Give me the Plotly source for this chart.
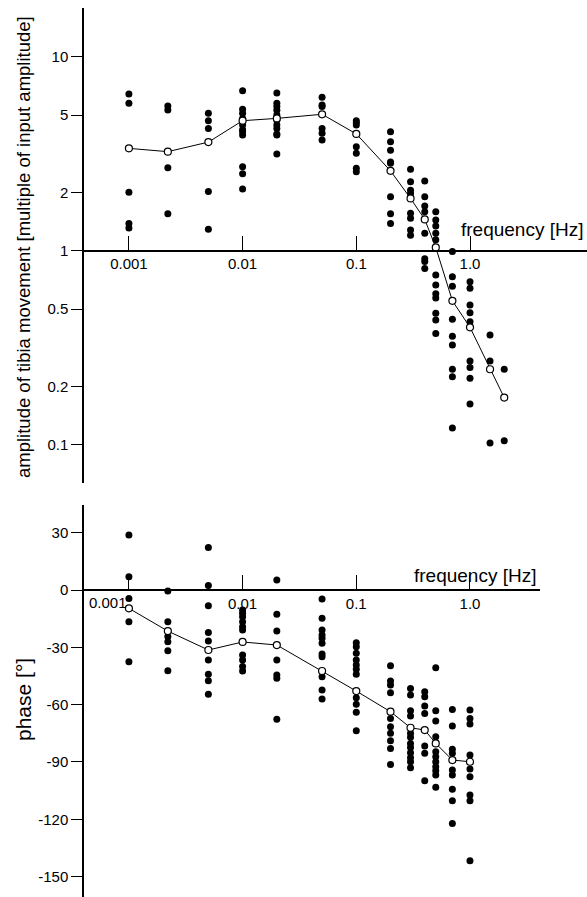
import plotly.graph_objects as go

W, H = 587, 897

# ---------------- data ----------------
amp_freq = [0.001, 0.0022, 0.005, 0.01, 0.02, 0.05, 0.1, 0.2, 0.3, 0.4, 0.5, 0.7, 1.0, 1.5, 2.0]
amp_mean = [3.37, 3.24, 3.63, 4.68, 4.81, 5.05, 4.0, 2.58, 1.86, 1.45, 1.04, 0.552, 0.403, 0.245, 0.175]
amp_points = [
    [6.42, 5.75, 2.0, 1.38, 1.31],
    [5.57, 5.31, 2.68, 1.55],
    [5.11, 4.68, 4.27, 2.02, 1.29],
    [6.68, 5.36, 5.11, 4.81, 4.44, 4.2, 4.1, 3.95, 2.71, 2.49, 2.08],
    [6.5, 5.75, 5.53, 5.3, 5.0, 4.7, 4.44, 4.27, 4.0, 3.95, 3.15],
    [6.18, 5.64, 5.53, 4.27, 4.03, 3.72],
    [4.68, 4.57, 4.44, 3.44, 3.18, 2.66, 2.55],
    [4.10, 3.65, 3.30, 2.87, 2.82, 1.90, 1.55, 1.38],
    [2.63, 2.27, 2.05, 1.97, 1.56, 1.47, 1.28, 1.20],
    [2.29, 1.90, 1.70, 1.59, 1.23, 0.91, 0.88, 0.81],
    [1.59, 1.44, 1.34, 1.23, 1.14, 0.75, 0.665, 0.60, 0.57, 0.476, 0.44, 0.375],
    [0.99, 0.734, 0.657, 0.443, 0.363, 0.327, 0.245, 0.224, 0.122],
    [0.692, 0.64, 0.525, 0.479, 0.43, 0.27, 0.25, 0.22, 0.162],
    [0.368, 0.27, 0.102],
    [0.245, 0.105],
]

phase_freq = [0.001, 0.0022, 0.005, 0.01, 0.02, 0.05, 0.1, 0.2, 0.3, 0.4, 0.5, 0.7, 1.0]
phase_mean = [-9.6, -21.5, -31.4, -27.2, -28.8, -42.4, -52.9, -63.7, -72.1, -73.3, -80.3, -89.0, -89.9]
phase_points = [
    [28.8, 7.0, -4.4, -16.6, -37.5],
    [-0.5, -16.6, -24.4, -27.1, -31.8, -42.2],
    [22.3, 2.3, -8.2, -22.3, -26.7, -36.6, -44.1, -47.5, -54.6],
    [-10.5, -12.2, -14.0, -16.6, -19.2, -20.9, -34.0, -36.6, -40.1, -42.4],
    [5.2, -12.7, -21.5, -36.6, -44.5, -46.2, -67.7],
    [-4.7, -14.8, -20.9, -23.6, -25.3, -27.9, -33.5, -34.9, -45.4, -52.4, -57.1],
    [-27.6, -29.7, -33.1, -36.6, -39.3, -41.5, -44.1, -56.4, -59.8, -64.0, -73.7],
    [-39.6, -47.6, -49.7, -53.8, -67.2, -71.6, -75.0, -78.9, -82.9, -91.3],
    [-51.5, -55.0, -63.2, -66.0, -75.0, -77.1, -80.3, -82.4, -85.2, -87.8, -89.9, -93.0],
    [-53.2, -55.9, -60.7, -64.6, -81.7, -85.5, -99.8],
    [-40.7, -63.2, -68.6, -76.8, -84.7, -87.3, -89.9, -92.5, -94.6, -96.9, -103.3],
    [-62.5, -71.2, -83.4, -85.5, -94.2, -96.9, -104.3, -110.3, -122.2],
    [-62.8, -67.2, -70.2, -86.4, -93.7, -97.7, -107.3, -110.3, -141.7],
]

x_tickvals = [0.001, 0.01, 0.1, 1.0]
x_ticktext = ["0.001", "0.01", "0.1", "1.0"]
amp_tickvals = [0.1, 0.2, 0.5, 1, 2, 5, 10]
amp_ticktext = ["0.1", "0.2", "0.5", "1", "2", "5", "10"]
phase_tickvals = [30, 0, -30, -60, -90, -120, -150]
phase_ticktext = ["30", "0", "-30", "-60", "-90", "-120", "-150"]

# ---------------- figure ----------------
FONT = "Liberation Sans, Arial, sans-serif"


def flat(freqs, pts):
    xs, ys = [], []
    for f, col in zip(freqs, pts):
        for v in col:
            xs.append(f)
            ys.append(v)
    return xs, ys


fig = go.Figure()

ax, ay = flat(amp_freq, amp_points)
fig.add_trace(go.Scatter(x=ax, y=ay, mode="markers", xaxis="x", yaxis="y",
                         marker=dict(size=7, color="black"), showlegend=False,
                         hoverinfo="skip"))
fig.add_trace(go.Scatter(x=amp_freq, y=amp_mean, mode="lines+markers", xaxis="x", yaxis="y",
                         line=dict(color="black", width=1),
                         marker=dict(size=7, color="white", line=dict(color="black", width=1.2)),
                         showlegend=False))

px_, py_ = flat(phase_freq, phase_points)
fig.add_trace(go.Scatter(x=px_, y=py_, mode="markers", xaxis="x2", yaxis="y2",
                         marker=dict(size=7, color="black"), showlegend=False,
                         hoverinfo="skip"))
fig.add_trace(go.Scatter(x=phase_freq, y=phase_mean, mode="lines+markers", xaxis="x2", yaxis="y2",
                         line=dict(color="black", width=1),
                         marker=dict(size=7, color="white", line=dict(color="black", width=1.2)),
                         showlegend=False))

X0 = 84 / W
tick_font = dict(family=FONT, size=15, color="black")

common_x = dict(type="log", showgrid=False, zeroline=False, showline=True,
                linecolor="black", linewidth=1.5, ticks="inside", ticklen=14,
                tickwidth=1, tickcolor="black", tickfont=tick_font,
                tickvals=x_tickvals, anchor="free")

fig.update_layout(
    width=W, height=H,
    margin=dict(l=0, r=0, t=0, b=0),
    paper_bgcolor="white", plot_bgcolor="white",
    font=dict(family=FONT, color="black"),
    xaxis=dict(common_x, domain=[X0, 1.0], range=[-3.395, 1.029],
               ticktext=x_ticktext, position=1 - 250.7 / H),
    xaxis2=dict(common_x, domain=[X0, 540 / W], range=[-3.395, 0.616],
                ticktext=[""] + x_ticktext[1:], position=1 - 590 / H),
    yaxis=dict(type="log", domain=[1 - 483 / H, 1 - 8 / H], range=[-1.197, 1.251],
               anchor="x", showgrid=False, zeroline=False, showline=True,
               linecolor="black", linewidth=1.5, ticks="outside", ticklen=11,
               tickcolor="black", tickfont=tick_font,
               tickvals=amp_tickvals, ticktext=amp_ticktext),
    yaxis2=dict(domain=[0, 1 - 505 / H], range=[-160.7, 44.5],
                anchor="x2", showgrid=False, zeroline=False, showline=True,
                linecolor="black", linewidth=1.5, ticks="outside", ticklen=11,
                tickcolor="black", tickfont=tick_font,
                tickvals=phase_tickvals, ticktext=phase_ticktext),
    annotations=[
        dict(text="amplitude of tibia movement [multiple of input amplitude]",
             xref="paper", yref="paper", x=23 / W, y=1 - 247 / H, textangle=-90,
             xanchor="center", yanchor="middle", showarrow=False,
             font=dict(family=FONT, size=18.5, color="black")),
        dict(text="phase [°]",
             xref="paper", yref="paper", x=23 / W, y=1 - 700 / H, textangle=-90,
             xanchor="center", yanchor="middle", showarrow=False,
             font=dict(family=FONT, size=21, color="black")),
        dict(text="frequency [Hz]", xref="paper", yref="paper",
             x=586 / W, y=1 - 229 / H, xanchor="right", yanchor="middle",
             showarrow=False, font=dict(family=FONT, size=19, color="black")),
        dict(text="frequency [Hz]", xref="paper", yref="paper",
             x=539 / W, y=1 - 575 / H, xanchor="right", yanchor="middle",
             showarrow=False, font=dict(family=FONT, size=19, color="black")),
        dict(text="0.001", xref="paper", yref="paper",
             x=129 / W, y=1 - 592 / H, xanchor="right", yanchor="top",
             showarrow=False, font=tick_font),
    ],
)

fig.write_html("out.html", config={"displayModeBar": False},
               post_script="document.body.style.margin='0';")
